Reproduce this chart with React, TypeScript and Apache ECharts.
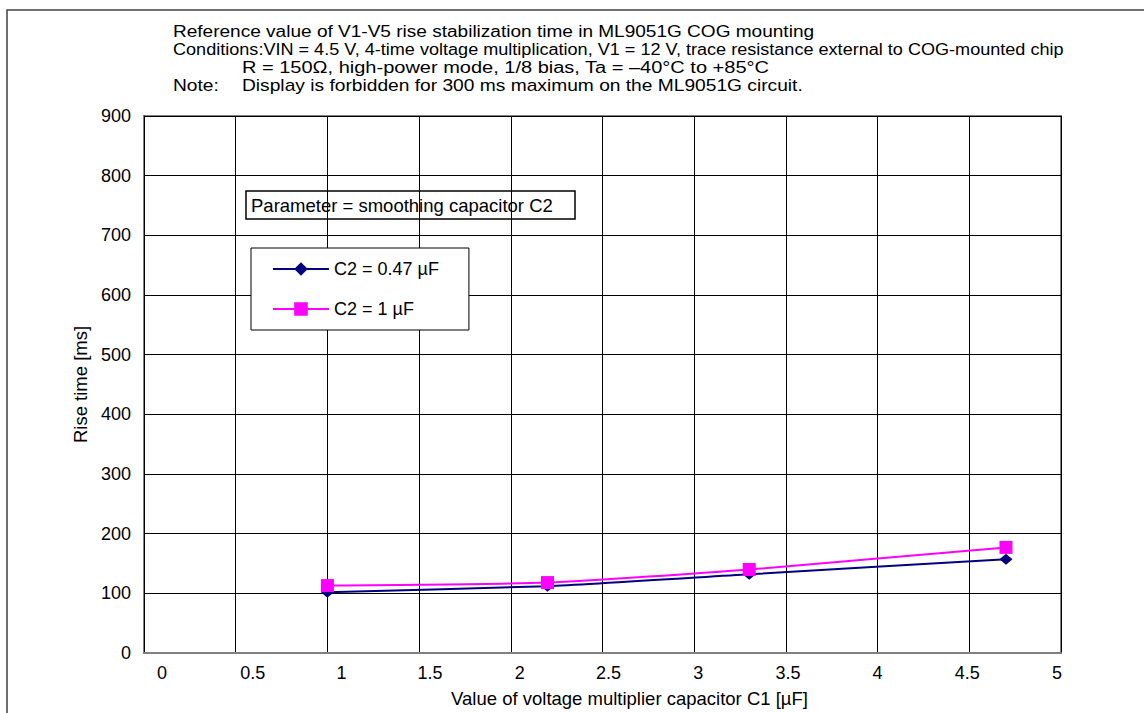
import React, { useEffect, useRef } from "react";
import * as echarts from "echarts";

// ---- data ----
const c1Values = [1, 2.2, 3.3, 4.7];
const riseC2a = [102, 112, 132, 157];
const riseC2b = [113, 118, 140, 177];
const seriesNames = ["C2 = 0.47 µF", "C2 = 1 µF"];
const headerTitle = "Reference value of V1-V5 rise stabilization time in ML9051G COG mounting";
const headerCond1 = "Conditions:VIN = 4.5 V, 4-time voltage multiplication, V1 = 12 V, trace resistance external to COG-mounted chip";
const headerCond2 = "R = 150Ω, high-power mode, 1/8 bias, Ta = –40°C to +85°C";
const headerNoteLabel = "Note:";
const headerNote = "Display is forbidden for 300 ms maximum on the ML9051G circuit.";
const paramText = "Parameter = smoothing capacitor C2";
const xAxisTitle = "Value of voltage multiplier capacitor C1 [µF]";
const yAxisTitle = "Rise time [ms]";

// ---- styles ----
const FONT = "'Liberation Sans', Arial, sans-serif";
const FS_TICK = 18;
const FS_HEAD = 16;
const FS_NAME = 18.5;
const FS_LEG = 18;
const FS_PARAM = 18.5;
const xLabelShift = [18, 17, 14, 11, 9, 6, 4, 2, 0, -2, -4];

export default function App() {
  const ref = useRef<HTMLDivElement>(null);
  useEffect(() => {
    const chart = echarts.init(ref.current!, null, { renderer: "svg" });
    const rich: Record<string, any> = {};
    xLabelShift.forEach((s, i) => {
      rich["s" + i] = {
        fontFamily: FONT,
        fontSize: FS_TICK,
        color: "#000",
        padding: s >= 0 ? [0, 0, 0, 2 * s] : [0, -2 * s, 0, 0],
      };
    });
    const headerX1 = 173;
    const headerX2 = 242;
    const ys = [32, 50, 68, 86];
    const txt = (x: number, y: number, t: string, sx: number) => ({
      type: "text",
      x,
      y,
      scaleX: sx,
      style: { text: t, fill: "#000", font: `${FS_HEAD}px ${FONT}`, textVerticalAlign: "middle", textAlign: "left" },
      z: 100,
    });
    chart.setOption({
      animation: false,
      backgroundColor: "#fff",
      textStyle: { fontFamily: FONT },
      grid: {
        left: 144,
        top: 116,
        width: 917,
        height: 540,
        show: true,
        borderColor: "#808080",
        borderWidth: 2,
        backgroundColor: "transparent",
      },
      xAxis: {
        type: "value",
        min: 0,
        max: 5,
        interval: 0.5,
        name: xAxisTitle,
        nameLocation: "middle",
        nameGap: 36,
        nameTextStyle: { fontFamily: FONT, fontSize: FS_NAME, color: "#000", padding: [0, 0, 0, 54] },
        axisLine: { show: true, lineStyle: { color: "#808080", width: 2 } },
        axisTick: { show: false },
        splitLine: { show: true, lineStyle: { color: "#000", width: 1 } },
        axisLabel: {
          margin: 11,
          formatter: (v: number) => `{s${Math.round(v / 0.5)}|${v}}`,
          rich,
        },
      },
      yAxis: {
        type: "value",
        min: 0,
        max: 900,
        interval: 100,
        name: yAxisTitle,
        nameLocation: "middle",
        nameGap: 41,
        nameRotate: 90,
        nameTextStyle: { fontFamily: FONT, fontSize: FS_NAME, color: "#000" },
        axisLine: { show: true, lineStyle: { color: "#000", width: 1 } },
        axisTick: { show: false },
        splitLine: { show: true, lineStyle: { color: "#000", width: 1 } },
        axisLabel: {
          margin: 13,
          fontFamily: FONT,
          fontSize: FS_TICK,
          color: "#000",
          padding: [0, 0, 5, 0],
        },
      },
      legend: {
        left: 251,
        top: 248,
        orient: "vertical",
        data: seriesNames,
        itemWidth: 56,
        itemHeight: 17,
        itemGap: 22,
        padding: [12, 30, 12, 21],
        borderColor: "#000",
        borderWidth: 1,
        backgroundColor: "#fff",
        textStyle: { fontFamily: FONT, fontSize: FS_LEG, color: "#000" },
        z: 50,
      },
      series: [
        {
          name: seriesNames[0],
          type: "line",
          data: c1Values.map((x, i) => [x, riseC2a[i]]),
          symbol: "diamond",
          symbolSize: [13, 11],
          smooth: 0.2,
          color: "#000080",
          lineStyle: { color: "#000080", width: 2 },
          itemStyle: { color: "#000080" },
          z: 3,
        },
        {
          name: seriesNames[1],
          type: "line",
          data: c1Values.map((x, i) => [x, riseC2b[i]]),
          symbol: "rect",
          symbolSize: 13,
          smooth: 0.2,
          color: "#ff00ff",
          lineStyle: { color: "#ff00ff", width: 2 },
          itemStyle: { color: "#ff00ff" },
          z: 4,
        },
      ],
      graphic: [
        {
          type: "rect",
          shape: { x: 7, y: 10, width: 1150, height: 720 },
          style: { fill: "none", stroke: "#404040", lineWidth: 1.5 },
          z: 0,
          silent: true,
        },
        txt(headerX1, ys[0], headerTitle, 1.19),
        txt(headerX1, ys[1], headerCond1, 1.13),
        txt(headerX2, ys[2], headerCond2, 1.25),
        txt(headerX1, ys[3], headerNoteLabel, 1.2),
        txt(headerX2, ys[3], headerNote, 1.2),
        {
          type: "group",
          z: 60,
          children: [
            {
              type: "rect",
              shape: { x: 246, y: 191, width: 329, height: 28 },
              style: { fill: "#fff", stroke: "#000", lineWidth: 1.5 },
            },
            {
              type: "text",
              x: 251,
              y: 205,
              style: { text: paramText, fill: "#000", font: `${FS_PARAM}px ${FONT}`, textVerticalAlign: "middle" },
            },
          ],
        },
      ],
    });
    return () => chart.dispose();
  }, []);
  return <div ref={ref} style={{ position: "absolute", left: 0, top: 0, width: 1144, height: 713 }} />;
}
